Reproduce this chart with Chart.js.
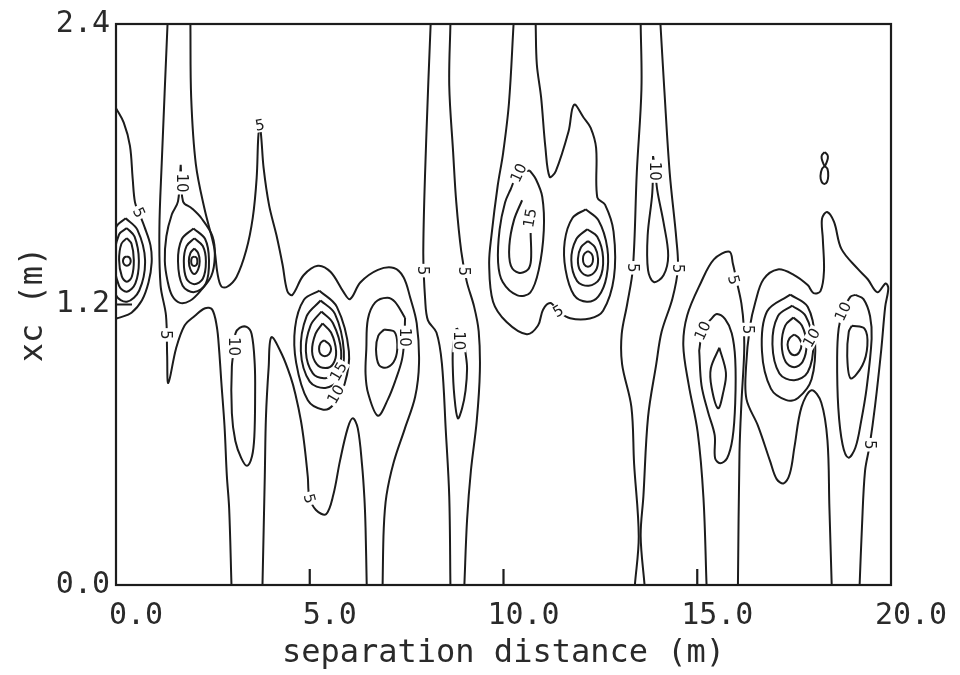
<!DOCTYPE html>
<html>
<head>
<meta charset="utf-8">
<script src="https://cdn.jsdelivr.net/npm/chart.js@4.4.1/dist/chart.umd.min.js"></script>
<style>
  html, body { margin: 0; background: #fff; }
  #wrap { width: 960px; height: 675px; }
</style>
</head>
<body>
<div id="wrap"><canvas id="chart"></canvas></div>
<script>
const xTicks = [0, 5, 10, 15, 20];
const xTickLabels = ['0.0', '5.0', '10.0', '15.0', '20.0'];
const yTicks = [0, 1.2, 2.4];
const yTickLabels = ['0.0', '1.2', '2.4'];

// contour lines, [separation distance (m), xc (m)]
const line5A = [[0,2.04],[0.20,1.978],[0.36,1.879],[0.43,1.739],[0.49,1.637],[0.59,1.594],[0.74,1.530],[0.89,1.453],[0.92,1.379],[0.84,1.295],[0.67,1.218],[0.40,1.165],[0.09,1.144],[0,1.14]];
const ringL1 = [[0.28,1.406],[0.35,1.400],[0.38,1.386],[0.35,1.372],[0.28,1.366],[0.21,1.372],[0.18,1.386],[0.21,1.400],[0.28,1.406]];
const ringL2 = [[0.28,1.484],[0.40,1.46],[0.46,1.39],[0.41,1.32],[0.28,1.297],[0.15,1.32],[0.08,1.39],[0.14,1.46],[0.28,1.484]];
const ringL3 = [[0.28,1.527],[0.48,1.49],[0.59,1.39],[0.50,1.29],[0.28,1.255],[0.08,1.28],[-0.05,1.39],[0.08,1.50],[0.28,1.527]];
const ringL4 = [[0.25,1.569],[0.55,1.52],[0.75,1.39],[0.60,1.26],[0.28,1.212],[0.0,1.24],[-0.15,1.39],[0.0,1.53],[0.25,1.569]];

const line5B = [[1.33,2.4],[1.18,1.804],[1.12,1.524],[1.15,1.282],[1.29,1.153],[1.32,0.983],[1.35,0.864],[1.55,1.012],[1.77,1.110],[2.03,1.151],[2.30,1.184],[2.48,1.179],[2.60,1.107],[2.66,1.008],[2.72,0.864],[2.80,0.681],[2.86,0.469],[2.92,0.328],[2.98,0]];
const line10C = [[1.67,1.798],[1.73,1.641],[1.96,1.611],[2.21,1.568],[2.49,1.492],[2.55,1.407],[2.46,1.322],[2.18,1.258],[1.91,1.216],[1.65,1.207],[1.45,1.237],[1.33,1.301],[1.26,1.386],[1.30,1.492],[1.44,1.585],[1.60,1.641],[1.67,1.798]];
const ringB1 = [[2.02,1.405],[2.08,1.40],[2.10,1.385],[2.08,1.37],[2.02,1.365],[1.96,1.37],[1.94,1.385],[1.96,1.40],[2.02,1.405]];
const ringB2 = [[2.02,1.44],[2.12,1.42],[2.16,1.385],[2.12,1.35],[2.02,1.33],[1.92,1.35],[1.88,1.385],[1.92,1.42],[2.02,1.44]];
const ringB3 = [[2.02,1.483],[2.24,1.45],[2.32,1.385],[2.24,1.31],[2.02,1.287],[1.82,1.31],[1.75,1.385],[1.82,1.45],[2.02,1.483]];
const ringB4 = [[2.0,1.525],[2.30,1.48],[2.40,1.39],[2.32,1.29],[2.02,1.253],[1.72,1.28],[1.60,1.385],[1.70,1.48],[2.0,1.525]];

const line5D = [[1.92,2.4],[1.94,2.087],[2.06,1.801],[2.29,1.605],[2.53,1.447],[2.62,1.332],[2.72,1.277],[2.87,1.276],[3.11,1.318],[3.36,1.432],[3.53,1.572],[3.63,1.742],[3.67,1.912],[3.71,1.967],[3.75,1.912],[3.81,1.783],[3.95,1.625],[4.14,1.497],[4.30,1.369],[4.42,1.258],[4.55,1.241],[4.84,1.325],[5.21,1.366],[5.54,1.339],[5.87,1.254],[6.04,1.223],[6.31,1.295],[6.76,1.348],[7.17,1.356],[7.42,1.317],[7.59,1.231],[7.76,1.120],[7.82,0.950],[7.72,0.805],[7.45,0.667],[7.17,0.527],[6.98,0.383],[6.91,0.243],[6.88,0]];
const line5E = [[3.78,0],[3.84,0.466],[3.87,0.720],[3.94,0.932],[4.01,1.060],[4.28,0.987],[4.51,0.888],[4.63,0.816],[4.77,0.705],[4.86,0.602],[4.95,0.462],[4.99,0.377],[5.16,0.321],[5.42,0.303],[5.61,0.387],[5.78,0.531],[5.98,0.671],[6.11,0.713],[6.24,0.670],[6.35,0.513],[6.41,0.373],[6.44,0.245],[6.47,0]];
const line10N = [[3.08,1.041],[2.99,0.935],[2.99,0.735],[3.08,0.616],[3.23,0.544],[3.38,0.510],[3.51,0.551],[3.57,0.636],[3.59,0.806],[3.58,0.946],[3.50,1.074],[3.37,1.104],[3.19,1.100],[3.08,1.075],[3.08,1.041]];

const ringC1 = [[5.37,1.047],[5.50,1.03],[5.55,1.01],[5.50,0.988],[5.39,0.979],[5.28,0.988],[5.24,1.01],[5.28,1.035],[5.37,1.047]];
const ringC2 = [[5.33,1.119],[5.55,1.08],[5.68,1.00],[5.60,0.945],[5.40,0.928],[5.18,0.945],[5.06,1.00],[5.15,1.075],[5.33,1.119]];
const ringC3 = [[5.30,1.170],[5.60,1.12],[5.81,1.00],[5.70,0.91],[5.40,0.885],[5.08,0.905],[4.90,1.00],[5.02,1.11],[5.30,1.170]];
const ringC4 = [[5.28,1.217],[5.65,1.16],[5.88,1.00],[5.75,0.88],[5.40,0.843],[5.00,0.87],[4.77,1.00],[4.92,1.15],[5.28,1.217]];
const ringC5 = [[5.25,1.259],[5.70,1.19],[6.01,1.00],[5.90,0.86],[5.60,0.77],[5.35,0.750],[4.95,0.79],[4.65,0.95],[4.62,1.10],[4.85,1.22],[5.25,1.259]];
const line10Q = [[7.46,1.142],[7.20,1.211],[7.00,1.229],[6.69,1.209],[6.50,1.137],[6.46,1.009],[6.44,0.903],[6.51,0.818],[6.76,0.724],[7.02,0.795],[7.22,0.879],[7.38,0.964],[7.44,1.049],[7.46,1.142]];
const loopQ = [[6.92,1.093],[7.18,1.084],[7.26,1.029],[7.20,0.965],[7.00,0.931],[6.79,0.940],[6.71,1.008],[6.77,1.067],[6.92,1.093]];

const line5F = [[8.12,2.4],[8.01,1.926],[7.93,1.429],[7.98,1.217],[8.05,1.132],[8.27,1.080],[8.41,0.948],[8.51,0.663],[8.60,0.378],[8.63,0]];
const line5G = [[8.63,2.4],[8.60,2.137],[8.70,1.852],[8.78,1.640],[8.91,1.427],[9.05,1.299],[9.24,1.192],[9.36,1.085],[9.39,0.915],[9.31,0.703],[9.16,0.491],[9.06,0.279],[8.99,0]];
const line10R = [[8.79,1.099],[8.70,1.023],[8.69,0.938],[8.73,0.811],[8.82,0.713],[8.93,0.755],[9.02,0.832],[9.06,0.925],[9.03,0.980],[8.94,1.065],[8.79,1.099]];

const line5H = [[10.26,2.4],[10.14,2.060],[9.99,1.848],[9.85,1.708],[9.69,1.496],[9.63,1.373],[9.73,1.212],[10.08,1.125],[10.60,1.073],[10.89,1.110],[11.02,1.178],[11.21,1.206],[11.41,1.172],[11.72,1.141],[12.23,1.140],[12.57,1.173],[12.85,1.316],[12.84,1.512],[12.62,1.627],[12.42,1.658],[12.39,1.870],[12.25,1.956],[12.07,1.999],[11.82,2.055],[11.68,1.941],[11.35,1.771],[11.19,1.746],[11.08,1.874],[10.97,2.087],[10.86,2.228],[10.83,2.4]];
const line10H = [[10.68,1.773],[10.83,1.738],[11.00,1.661],[11.04,1.517],[10.91,1.348],[10.69,1.251],[10.36,1.239],[9.98,1.296],[9.86,1.381],[9.90,1.521],[10.04,1.636],[10.18,1.691],[10.39,1.763],[10.68,1.773]];
const line15U = [[10.48,1.646],[10.27,1.561],[10.15,1.451],[10.19,1.366],[10.39,1.336],[10.63,1.349],[10.71,1.391],[10.70,1.506]];
const ringD1 = [[12.18,1.429],[12.28,1.415],[12.31,1.395],[12.28,1.372],[12.18,1.361],[12.08,1.372],[12.05,1.395],[12.08,1.415],[12.18,1.429]];
const ringD2 = [[12.18,1.472],[12.36,1.445],[12.44,1.395],[12.38,1.345],[12.18,1.323],[11.98,1.345],[11.92,1.395],[12.00,1.445],[12.18,1.472]];
const ringD3 = [[12.16,1.522],[12.42,1.49],[12.57,1.40],[12.48,1.31],[12.20,1.280],[11.90,1.30],[11.75,1.39],[11.88,1.48],[12.16,1.522]];
const ringD4 = [[12.12,1.607],[12.45,1.56],[12.68,1.44],[12.66,1.32],[12.45,1.235],[12.15,1.212],[11.82,1.24],[11.60,1.35],[11.58,1.47],[11.78,1.57],[12.12,1.607]];

const line5I = [[13.54,2.4],[13.56,2.122],[13.44,1.765],[13.34,1.357],[13.19,1.200],[13.05,1.073],[13.06,0.945],[13.30,0.762],[13.37,0.520],[13.49,0.209],[13.39,0]];
const line5J = [[14.05,2.4],[14.15,2.120],[14.29,1.762],[14.46,1.481],[14.50,1.354],[14.36,1.226],[14.08,1.083],[13.94,0.943],[13.73,0.718],[13.61,0.379],[13.54,0.209],[13.64,0]];
const line10T = [[13.86,1.835],[13.84,1.678],[13.72,1.495],[13.73,1.347],[13.88,1.296],[14.13,1.325],[14.25,1.410],[14.13,1.551],[13.97,1.687],[13.91,1.78],[13.86,1.835]];

const line5K = [[15.24,0],[15.16,0.373],[15.01,0.655],[14.78,0.856],[14.64,1.026],[14.74,1.153],[15.09,1.292],[15.43,1.393],[15.83,1.426],[15.92,1.374],[16.02,1.298],[16.14,1.204],[16.20,1.106],[16.21,0.991],[16.14,0.779],[16.09,0.566],[16.05,0]];
const line10V = [[15.05,1.003],[15.11,0.854],[15.28,0.739],[15.45,0.641],[15.46,0.543],[15.59,0.521],[15.77,0.542],[15.91,0.627],[15.98,0.780],[15.98,0.966],[15.89,1.077],[15.72,1.137],[15.51,1.159],[15.38,1.142],[15.14,1.088],[15.05,1.003]];
const lensV = [[15.57,1.015],[15.74,0.908],[15.67,0.824],[15.54,0.756],[15.37,0.845],[15.35,0.926],[15.57,1.015]];

const line5L = [[18.47,0],[18.41,0.334],[18.36,0.619],[18.20,0.781],[17.95,0.833],[17.69,0.761],[17.51,0.592],[17.39,0.477],[17.23,0.435],[17.05,0.453],[16.88,0.530],[16.57,0.680],[16.27,0.795],[16.26,0.935],[16.36,1.105],[16.50,1.211],[16.71,1.308],[17.08,1.350],[17.49,1.327],[17.85,1.283],[18.00,1.249],[18.18,1.257],[18.27,1.342],[18.24,1.482],[18.22,1.567],[18.35,1.596],[18.53,1.553],[18.72,1.438],[19.15,1.351],[19.40,1.308],[19.65,1.252],[19.86,1.29],[19.93,1.27],[19.85,1.19],[19.75,1.009],[19.59,0.768],[19.45,0.598],[19.33,0.488],[19.25,0.246],[19.19,0]];
const ringF1 = [[17.50,1.072],[17.63,1.055],[17.69,1.028],[17.63,0.995],[17.51,0.983],[17.39,0.995],[17.33,1.028],[17.38,1.055],[17.50,1.072]];
const ringF2 = [[17.48,1.144],[17.70,1.11],[17.82,1.03],[17.72,0.955],[17.50,0.932],[17.28,0.955],[17.18,1.03],[17.27,1.11],[17.48,1.144]];
const ringF3 = [[17.45,1.195],[17.80,1.15],[17.99,1.03],[17.85,0.91],[17.50,0.876],[17.12,0.905],[16.94,1.03],[17.08,1.15],[17.45,1.195]];
const ringF4 = [[17.40,1.242],[17.85,1.19],[18.04,1.05],[17.95,0.88],[17.60,0.80],[17.30,0.791],[16.90,0.84],[16.67,1.00],[16.80,1.17],[17.40,1.242]];
const line10W = [[19.08,1.241],[19.29,1.223],[19.46,1.150],[19.50,1.053],[19.37,0.841],[19.23,0.701],[19.08,0.587],[18.90,0.545],[18.75,0.601],[18.64,0.758],[18.61,0.971],[18.65,1.098],[18.76,1.17],[18.95,1.233],[19.08,1.241]];
const loopW = [[18.99,1.109],[19.32,1.096],[19.39,1.024],[19.26,0.939],[18.96,0.884],[18.87,0.981],[18.91,1.083],[18.99,1.109]];
const eightTop = [[18.29,1.852],[18.36,1.84],[18.37,1.825],[18.33,1.805],[18.29,1.792],[18.25,1.805],[18.21,1.825],[18.22,1.84],[18.29,1.852]];
const eightBottom = [[18.29,1.792],[18.36,1.78],[18.38,1.75],[18.35,1.725],[18.28,1.715],[18.21,1.725],[18.18,1.75],[18.22,1.78],[18.29,1.792]];

// contour level labels: text, x, xc, angle (deg)
const levelLabels = [
  ['5', 0.59, 1.594, 65], ['10', 1.70, 1.72, 90], ['5', 1.29, 1.07, 90],
  ['5', 3.71, 1.967, -10], ['10', 3.04, 1.02, 90], ['15', 5.74, 0.913, -60],
  ['10', 5.67, 0.816, -60], ['5', 4.99, 0.37, 75], ['10', 7.45, 1.06, 90],
  ['5', 7.92, 1.345, 90], ['5', 8.98, 1.342, 90], ['10', 8.86, 1.045, 90],
  ['10', 10.39, 1.763, -65], ['15', 10.68, 1.57, -80], ['5', 11.41, 1.172, -30],
  ['5', 13.34, 1.357, 90], ['5', 14.50, 1.354, 90], ['10', 13.90, 1.77, 90],
  ['5', 15.94, 1.306, 75], ['5', 16.30, 1.093, 90], ['10', 15.14, 1.088, -65],
  ['10', 17.95, 1.058, -60], ['10', 18.76, 1.17, -65], ['5', 19.45, 0.60, 90]
];

const contours = [
  line5A, ringL1, ringL2, ringL3, ringL4,
  line5B, line10C, ringB1, ringB2, ringB3, ringB4,
  line5D, line5E, line10N,
  ringC1, ringC2, ringC3, ringC4, ringC5, line10Q, loopQ,
  line5F, line5G, line10R,
  line5H, line10H, line15U, ringD1, ringD2, ringD3, ringD4,
  line5I, line5J, line10T,
  line5K, line10V, lensV,
  line5L, ringF1, ringF2, ringF3, ringF4, line10W, loopW, eightTop, eightBottom
];

const ink = '#1c1c1c';

const framePlugin = {
  id: 'frame',
  afterDatasetsDraw(chart) {
    const { ctx, chartArea: a, scales: { x, y } } = chart;
    ctx.save();
    ctx.font = '15px "DejaVu Sans"';
    ctx.textAlign = 'center';
    ctx.textBaseline = 'middle';
    levelLabels.forEach(([t, vx, vy, ang]) => {
      ctx.save();
      ctx.translate(x.getPixelForValue(vx), y.getPixelForValue(vy));
      ctx.rotate(ang * Math.PI / 180);
      const w = ctx.measureText(t).width;
      ctx.fillStyle = '#fff';
      ctx.fillRect(-w / 2 - 2, -7, w + 4, 14);
      ctx.fillStyle = ink;
      ctx.fillText(t, 0, 1);
      ctx.restore();
    });

    ctx.strokeStyle = ink;
    ctx.lineWidth = 2.2;
    ctx.strokeRect(a.left, a.top, a.right - a.left, a.bottom - a.top);
    ctx.beginPath();
    xTicks.slice(1, -1).forEach(v => {
      const px = x.getPixelForValue(v);
      ctx.moveTo(px, a.bottom);
      ctx.lineTo(px, a.bottom - 16);
    });
    yTicks.slice(1, -1).forEach(v => {
      const py = y.getPixelForValue(v);
      ctx.moveTo(a.left, py);
      ctx.lineTo(a.left + 16, py);
    });
    ctx.stroke();
    ctx.restore();
  }
};

const axisFont = { family: '"DejaVu Sans Mono", monospace', size: 30 };

new Chart(document.getElementById('chart'), {
  type: 'scatter',
  data: {
    datasets: contours.map(c => ({
      data: c.map(([x, y]) => ({ x, y })),
      showLine: true,
      borderColor: ink,
      borderWidth: 2,
      pointRadius: 0,
      tension: 0.35,
      fill: false
    }))
  },
  options: {
    responsive: true,
    maintainAspectRatio: false,
    animation: false,
    events: [],
    layout: { padding: { left: 0, right: 69, top: 20, bottom: 0 } },
    plugins: { legend: { display: false }, tooltip: { enabled: false } },
    scales: {
      x: {
        type: 'linear', min: 0, max: 20,
        afterBuildTicks: s => { s.ticks = xTicks.map(v => ({ value: v })); },
        afterFit: s => { s.height = 90; },
        ticks: {
          callback: (v, i) => xTickLabels[i],
          font: axisFont, color: '#2a2a2a', padding: 13, labelOffset: 20,
          maxRotation: 0, autoSkip: false
        },
        grid: { display: false, drawTicks: false },
        border: { display: false },
        title: {
          display: true, text: 'separation distance (m)',
          font: { family: '"DejaVu Sans Mono", monospace', size: 32 },
          color: '#2a2a2a', padding: { top: 0, bottom: 2 }
        }
      },
      y: {
        type: 'linear', min: 0, max: 2.4,
        afterBuildTicks: s => { s.ticks = yTicks.map(v => ({ value: v })); },
        afterFit: s => { s.width = 116; },
        ticks: {
          callback: (v, i) => yTickLabels[i],
          font: axisFont, color: '#2a2a2a', padding: 6, autoSkip: false
        },
        grid: { display: false, drawTicks: false },
        border: { display: false },
        title: {
          display: true, text: 'xc (m)',
          font: { family: '"DejaVu Sans Mono", monospace', size: 32 },
          color: '#2a2a2a', padding: { top: 14, bottom: 0 }
        }
      }
    }
  },
  plugins: [framePlugin]
});
</script>
</body>
</html>
